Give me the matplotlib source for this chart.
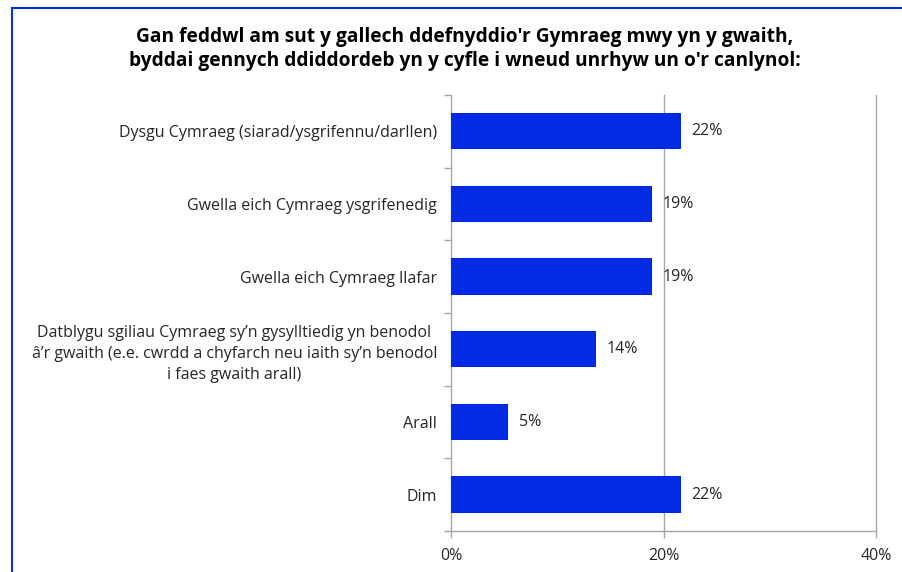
import matplotlib
matplotlib.use("Agg")
import matplotlib.pyplot as plt
from matplotlib.lines import Line2D

plt.rcParams['font.family'] = ['Open Sans', 'DejaVu Sans']

categories = [
    "Dysgu Cymraeg (siarad/ysgrifennu/darllen)",
    "Gwella eich Cymraeg ysgrifenedig",
    "Gwella eich Cymraeg llafar",
    "Datblygu sgiliau Cymraeg sy\u2019n gysylltiedig yn benodol\n"
    "\u00e2\u2019r gwaith (e.e. cwrdd a chyfarch neu iaith sy\u2019n benodol\n"
    "i faes gwaith arall)",
    "Arall",
    "Dim",
]
values = [21.6, 18.9, 18.9, 13.6, 5.4, 21.6]
xticks = [0, 20, 40]

title = ("Gan feddwl am sut y gallech ddefnyddio'r Gymraeg mwy yn y gwaith,\n"
         "byddai gennych ddiddordeb yn y cyfle i wneud unrhyw un o'r canlynol:")

grey = '#a6a6a6'
text_col = '#262626'
fs = 11.5

fig = plt.figure(figsize=(9.02, 5.72), dpi=100)
ax = fig.add_axes([0.5, 0.0717, 0.4712, 0.7623])

ypos = list(range(len(categories)))
ax.barh(ypos, values, height=0.5, color='#002ae6', zorder=3)
for y, v in zip(ypos, values):
    ax.text(v + 1.0, y, f"{v:.0f}%", va='center', ha='left',
            fontsize=fs, color=text_col)

ax.set_xlim(0, 40)
ax.set_ylim(len(categories) - 0.5, -0.5)
ax.set_xticks(xticks)
ax.set_xticklabels([f"{t}%" for t in xticks], fontsize=fs, color=text_col)
ax.set_yticks(ypos)
ax.set_yticklabels(categories, fontsize=fs, color=text_col,
                   multialignment='center', linespacing=1.45)
ax.set_yticks([i - 0.5 for i in range(len(categories) + 1)], minor=True)
ax.tick_params(axis='y', which='major', length=0, pad=10)
ax.tick_params(axis='y', which='minor', length=5, color=grey, width=1)
ax.tick_params(axis='x', length=5, color=grey, width=1, pad=7)

# vertical gridlines, kept unclipped so the one at the right edge shows fully
for t in xticks[1:]:
    ax.axvline(t, color=grey, linewidth=1, zorder=0, clip_on=False)
for side in ('top', 'right'):
    ax.spines[side].set_visible(False)
for side in ('left', 'bottom'):
    ax.spines[side].set_color(grey)
    ax.spines[side].set_linewidth(1)

fig.text(0.515, 0.914, title, ha='center', va='center', fontsize=13.8,
         fontweight='bold', color='black', linespacing=1.3)

# blue frame edges
fig.add_artist(Line2D([0.0133, 0.0133], [0.0, 0.986], color='#0033dd', lw=1.5))
fig.add_artist(Line2D([0.0133, 1.0], [0.986, 0.986], color='#0033dd', lw=1.5))

fig.savefig('out.png', dpi=100)
